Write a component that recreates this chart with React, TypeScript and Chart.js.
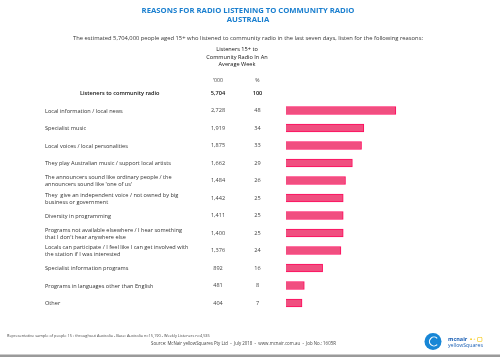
import React, { useEffect, useRef } from "react";
import { Chart, registerables } from "chart.js";

Chart.register(...registerables);

const titleLines = ["REASONS FOR RADIO LISTENING TO COMMUNITY RADIO", "AUSTRALIA"];
const subtitle =
  "The estimated 5,704,000 people aged 15+ who listened to community radio in the last seven days, listen for the following reasons:";
const columnHeader = ["Listeners 15+ to", "Community Radio In An", "Average Week"];
const colThousandsHeader = "'000";
const colPercentHeader = "%";

const categories: (string | string[])[] = [
  "Listeners to community radio",
  "Local information / local news",
  "Specialist music",
  "Local voices / local personalities",
  "They play Australian music / support local artists",
  ["The announcers sound like ordinary people / the", "announcers sound like 'one of us'"],
  ["They  give an independent voice / not owned by big", "business or government"],
  "Diversity in programming",
  ["Programs not available elsewhere / I hear something", "that I don't hear anywhere else"],
  ["Locals can participate / I feel like I can get involved with", "the station if I was interested"],
  "Specialist information programs",
  "Programs in languages other than English",
  "Other",
];
const thousands = ["5,704", "2,728", "1,919", "1,875", "1,662", "1,484", "1,442", "1,411", "1,400", "1,376", "892", "481", "404"];
const percents = [100, 48, 34, 33, 29, 26, 25, 25, 25, 24, 16, 8, 7];
// the total row has no bar
const barValues = [null, 48, 34, 33, 29, 26, 25, 25, 25, 24, 16, 8, 7];

const footerLine1 =
  "Representative sample of people 15+ throughout Australia - Base: Australia n=15,190 - Weekly Listeners n=4,535";
const footerLine2 =
  "Source: McNair yellowSquares Pty Ltd  -  July 2018  -  www.mcnair.com.au  -  Job No.: 1605R";

const FONT = "'Open Sans', sans-serif";

const textPlugin = {
  id: "texts",
  afterDraw(chart: any) {
    const ctx = chart.ctx as CanvasRenderingContext2D;
    const yScale = chart.scales.y;
    ctx.save();
    ctx.textBaseline = "middle";

    // Title
    ctx.fillStyle = "#1a7fcf";
    ctx.font = `bold 7.7px ${FONT}`;
    ctx.textAlign = "center";
    ctx.fillText(titleLines[0], 248, 11);
    ctx.fillText(titleLines[1], 248, 19.5);

    // Subtitle
    ctx.fillStyle = "#333";
    ctx.font = `5.8px ${FONT}`;
    ctx.fillText(subtitle, 248, 38);

    // Column header
    ctx.fillStyle = "#111";
    ctx.font = `5.6px ${FONT}`;
    columnHeader.forEach((l, i) => ctx.fillText(l, 237, 49.5 + i * 7.6));
    ctx.fillStyle = "#444";
    ctx.font = `5.2px ${FONT}`;
    ctx.fillText(colThousandsHeader, 218, 80.5);
    ctx.fillText(colPercentHeader, 257.5, 80.5);

    // Rows
    categories.forEach((cat, i) => {
      const y = yScale.getPixelForValue(i);
      const lines = Array.isArray(cat) ? cat : [cat];
      const bold = i === 0;
      ctx.fillStyle = bold ? "#111" : "#333";
      ctx.font = `${bold ? "600 " : ""}5.6px ${FONT}`;
      ctx.textAlign = "left";
      const lh = 6.8;
      const x = bold ? 80 : 45;
      lines.forEach((l, k) => {
        ctx.fillText(l, x, y + 0.8 + (k - (lines.length - 1) / 2) * lh);
      });
      ctx.textAlign = "center";
      ctx.fillStyle = bold ? "#111" : "#444";
      ctx.fillText(thousands[i], 218, y);
      ctx.fillText(String(percents[i]), 257.5, y);
    });

    // Footer
    ctx.fillStyle = "#444";
    ctx.textAlign = "left";
    ctx.font = `3.9px ${FONT}`;
    ctx.fillText(footerLine1, 7, 335.5);
    ctx.font = `4.4px ${FONT}`;
    ctx.fillText(footerLine2, 151, 344);

    // Logo
    ctx.fillStyle = "#1786d6";
    ctx.beginPath();
    ctx.arc(433, 341.5, 8.5, 0, Math.PI * 2);
    ctx.fill();
    ctx.strokeStyle = "#fff";
    ctx.lineWidth = 1.2;
    ctx.beginPath();
    ctx.arc(434, 341.5, 4.5, Math.PI * 0.25, Math.PI * 1.75);
    ctx.stroke();
    ctx.fillStyle = "#1a5fb4";
    ctx.font = `bold 5.5px ${FONT}`;
    ctx.fillText("mcnair", 448, 339);
    ctx.fillStyle = "#f5c400";
    ctx.fillText("• ◦ ▢", 470, 339);
    ctx.fillStyle = "#1a5fb4";
    ctx.font = `5.2px ${FONT}`;
    ctx.fillText("yellowSquares", 448, 346);

    // bottom rule
    ctx.fillStyle = "#9a9a9a";
    ctx.fillRect(0, 354.5, 500, 2.5);
    ctx.restore();
  },
};

export default function App() {
  const ref = useRef<HTMLCanvasElement>(null);
  useEffect(() => {
    if (!ref.current) return;
    const chart = new Chart(ref.current, {
      type: "bar",
      data: {
        labels: categories,
        datasets: [
          {
            data: barValues as any,
            backgroundColor: "#f04f80",
            borderColor: "#ff0a5c",
            borderWidth: 1,
            barThickness: 8,
          },
        ],
      },
      options: {
        indexAxis: "y",
        animation: false,
        responsive: false,
        maintainAspectRatio: false,
        layout: { padding: { left: 286, right: 8, top: 84.25, bottom: 45.25 } },
        plugins: { legend: { display: false }, tooltip: { enabled: false }, title: { display: false } },
        scales: {
          x: { display: false, min: 0, max: 90 },
          y: { display: false },
        },
      },
      plugins: [textPlugin],
    });
    return () => chart.destroy();
  }, []);
  return (
    <div style={{ position: "absolute", left: 0, top: 0, width: 500, height: 357, background: "#fff" }}>
      <canvas ref={ref} width={500} height={357} style={{ width: 500, height: 357, display: "block" }} />
    </div>
  );
}
